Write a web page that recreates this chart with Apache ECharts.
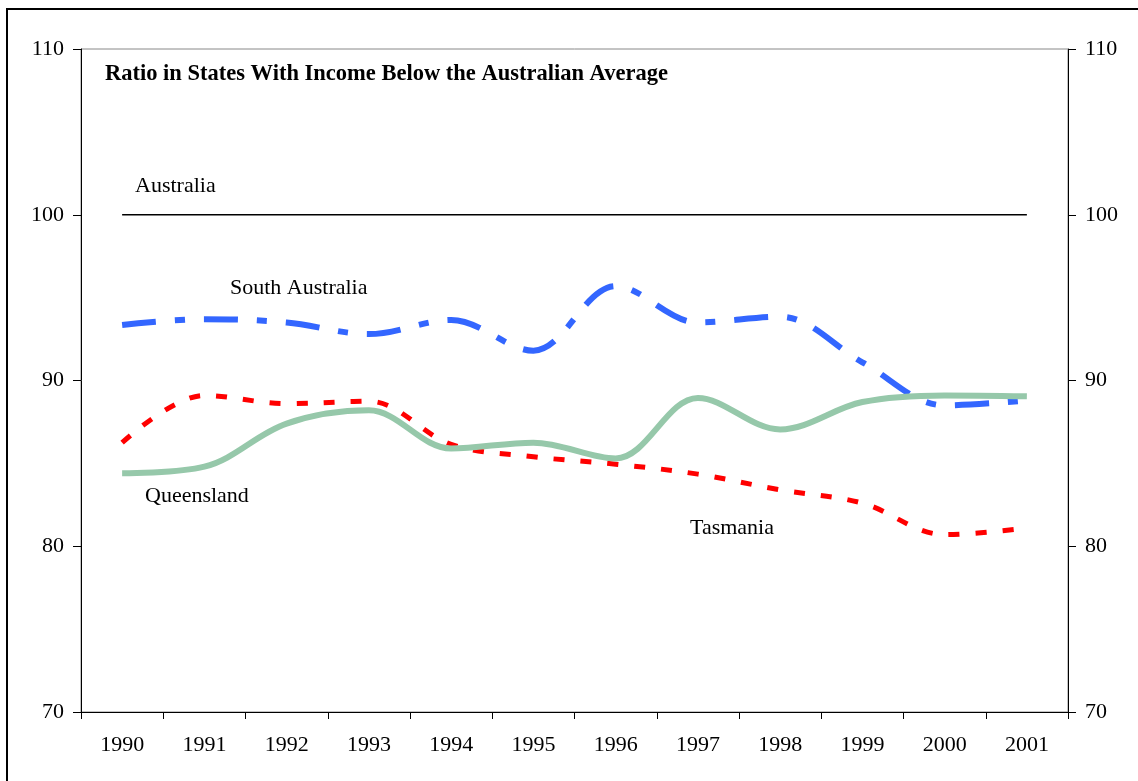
<!DOCTYPE html>
<html>
<head>
<meta charset="utf-8">
<script src="https://cdn.jsdelivr.net/npm/echarts@6/dist/echarts.min.js"></script>
<style>
  html, body { margin: 0; padding: 0; background: #fff; }
  #chart { width: 1138px; height: 781px; }
</style>
</head>
<body>
<div id="chart"></div>
<script>
const years = ['1990', '1991', '1992', '1993', '1994', '1995', '1996', '1997', '1998', '1999', '2000', '2001'];
const australia = [100, 100, 100, 100, 100, 100, 100, 100, 100, 100, 100, 100];
const southAustralia = [93.35, 93.7, 93.5, 92.8, 93.65, 91.8, 95.7, 93.5, 93.85, 91.1, 88.5, 88.8];
const tasmania = [86.25, 89.1, 88.6, 88.75, 86.15, 85.4, 84.95, 84.35, 83.4, 82.6, 80.7, 81.1];
const queensland = [84.4, 84.8, 87.4, 88.2, 85.9, 86.25, 85.3, 88.95, 87.05, 88.7, 89.1, 89.05];

const serif = '"Liberation Serif", "Times New Roman", serif';

const yAxisBase = (pos) => ({
  type: 'value',
  position: pos,
  min: 70,
  max: 110,
  interval: 10,
  splitLine: { show: false },
  axisLine: { show: true, lineStyle: { color: '#000', width: 1 } },
  axisTick: { show: true, length: 8, lineStyle: { color: '#000' } },
  axisLabel: { color: '#000', fontSize: 22, fontFamily: serif, margin: 17 }
});

const chart = echarts.init(document.getElementById('chart'));

const option = {
  animation: false,
  backgroundColor: '#fff',
  grid: {
    left: 81, right: 70, top: 49, bottom: 69,
    show: true, borderColor: '#888', borderWidth: 1
  },
  xAxis: {
    type: 'category',
    data: years,
    boundaryGap: true,
    axisLine: { lineStyle: { color: '#000', width: 1 } },
    axisTick: { show: true, length: 7, lineStyle: { color: '#000' } },
    axisLabel: { color: '#000', fontSize: 22, fontFamily: serif, margin: 22 }
  },
  yAxis: [yAxisBase('left'), yAxisBase('right')],
  graphic: [
    {
      type: 'rect',
      shape: { x: 7, y: 9, width: 1140, height: 790 },
      style: { fill: 'none', stroke: '#000', lineWidth: 2 },
      silent: true
    },
    {
      type: 'text', left: 105, top: 63,
      style: { text: 'Ratio in States With Income Below the Australian Average', fill: '#000', font: 'bold 22.5px ' + serif }
    },
    { type: 'text', left: 135, top: 175, style: { text: 'Australia', fill: '#000', font: '22px ' + serif } },
    { type: 'text', left: 230, top: 277, style: { text: 'South Australia', fill: '#000', font: '22px ' + serif } },
    { type: 'text', left: 145, top: 485, style: { text: 'Queensland', fill: '#000', font: '22px ' + serif } },
    { type: 'text', left: 690, top: 517, style: { text: 'Tasmania', fill: '#000', font: '22px ' + serif } }
  ],
  series: [
    {
      name: 'Australia', type: 'line', data: australia, symbol: 'none',
      lineStyle: { color: '#000', width: 1.5 }
    },
    {
      name: 'South Australia', type: 'line', data: southAustralia, symbol: 'none', smooth: 0.35,
      lineStyle: { color: '#3366ff', width: 6, type: [34, 19, 10, 19], cap: 'butt' }
    },
    {
      name: 'Tasmania', type: 'line', data: tasmania, symbol: 'none', smooth: 0.35,
      lineStyle: { color: '#ff0000', width: 5, type: [11, 16], cap: 'butt' }
    },
    {
      name: 'Queensland', type: 'line', data: queensland, symbol: 'none', smooth: 0.35,
      lineStyle: { color: '#96c8aa', width: 6 }
    }
  ]
};

chart.setOption(option);
</script>
</body>
</html>
